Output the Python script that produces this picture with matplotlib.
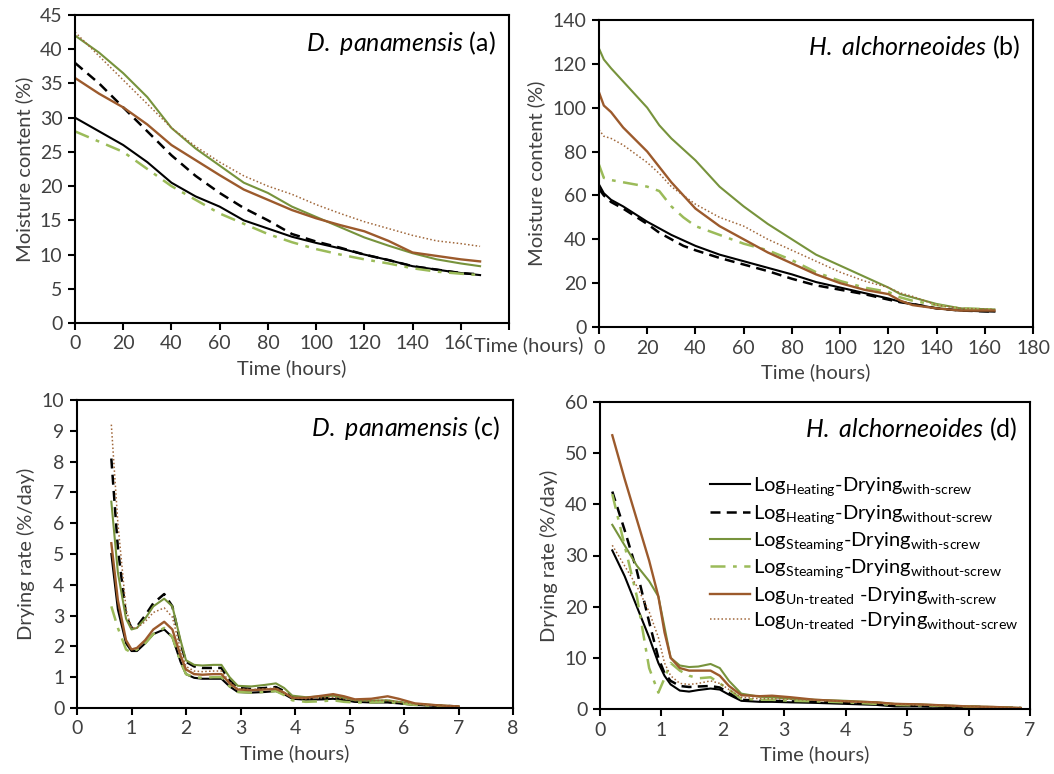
import matplotlib
matplotlib.use('Agg')
import matplotlib.pyplot as plt

plt.rcParams['font.family'] = ['Lato', 'DejaVu Sans']
plt.rcParams['mathtext.fontset'] = 'custom'
plt.rcParams['mathtext.rm'] = 'Lato'
plt.rcParams['mathtext.it'] = 'Lato:italic'

# ---- (a) D. panamensis moisture content ----
t_a = [0, 10, 20, 30, 40, 50, 60, 70, 80, 90, 100, 110, 120, 130, 140, 150, 160, 168]
a_hw = [30, 28, 26, 23.5, 20.5, 18.5, 17, 15, 13.8, 12.6, 11.7, 10.9, 10, 9.2, 8.3, 7.8, 7.3, 7.0]
a_hwo = [38, 35, 31.5, 28, 24.5, 21.5, 19, 16.8, 15, 13, 11.9, 11, 10, 9.2, 8.3, 7.8, 7.3, 7.1]
a_sw = [42, 39.5, 36.5, 33, 28.5, 25.5, 23, 20.5, 19, 17, 15.5, 14, 12.5, 11.3, 10.2, 9.3, 8.7, 8.3]
a_swo = [28, 26.5, 25, 22.5, 20, 18, 16, 14.5, 13, 11.8, 10.8, 10, 9.3, 8.7, 8.0, 7.5, 7.2, 7.0]
a_uw = [35.8, 33.5, 31.5, 29, 26, 23.8, 21.6, 19.5, 18, 16.5, 15.3, 14.3, 13.4, 12, 10.3, 9.8, 9.3, 9.0]
a_uwo = [42.5, 39, 35.5, 32, 28.5, 25.8, 23.5, 21.5, 20, 18.8, 17.3, 16, 14.8, 13.8, 12.8, 12, 11.6, 11.2]

# ---- (b) H. alchorneoides moisture content ----
t_b = [0, 2, 5, 10, 20, 25, 30, 35, 40, 50, 60, 70, 80, 90, 100, 110, 120, 125, 130, 140, 150, 164]
b_hw = [65, 61, 58, 55, 48, 45, 42, 39.5, 37, 33, 30, 27, 24, 20.5, 18, 15.5, 13, 11.5, 10.5, 8.5, 7.5, 7]
b_hwo = [63, 60, 57, 54, 47, 43, 40, 37, 35, 31.5, 28.5, 25.5, 22, 19, 17, 15, 12.5, 11.3, 10.5, 8.5, 7.5, 7]
b_sw = [127, 122, 118, 112, 100, 92, 86, 81, 76, 64, 55, 47, 40, 33, 28, 23, 18, 15, 13.5, 10.5, 8.5, 8]
b_swo = [74, 68, 67, 66, 64, 62, 55, 50, 46, 42, 38, 35, 30.5, 25, 21, 18, 16, 13.5, 12, 10, 8.5, 8]
b_uw = [107, 101, 98, 91, 80, 73, 66, 60, 54, 46, 40, 34, 29, 24, 20, 17, 15, 12, 10, 8.5, 7.5, 7.5]
b_uwo = [90, 87, 86, 83, 75, 70, 64, 60, 56, 50, 46, 40, 35, 30, 25, 21, 18, 15.5, 14, 10, 8.5, 8]

# ---- (c) D. panamensis drying rate ----
t_c = [0.63, 0.75, 0.9, 1.0, 1.1, 1.25, 1.4, 1.6, 1.75, 1.9, 2.0, 2.15, 2.3, 2.5, 2.65, 2.8,
       2.95, 3.2, 3.45, 3.65, 3.8, 3.95, 4.2, 4.5, 4.7, 4.9, 5.1, 5.4, 5.7, 5.9, 6.2, 6.6, 7.0]
c_hw = [5.0, 3.2, 2.1, 1.85, 1.85, 2.1, 2.4, 2.55, 2.3, 1.5, 1.1, 0.98, 0.95, 0.95, 0.95, 0.7,
        0.52, 0.5, 0.52, 0.55, 0.45, 0.3, 0.27, 0.28, 0.3, 0.25, 0.2, 0.18, 0.18, 0.15, 0.1, 0.07, 0.04]
c_hwo = [8.1, 5.2, 3.0, 2.6, 2.65, 3.0, 3.4, 3.7, 3.3, 2.1, 1.5, 1.35, 1.3, 1.3, 1.3, 0.9,
         0.65, 0.62, 0.65, 0.68, 0.55, 0.35, 0.3, 0.32, 0.33, 0.28, 0.22, 0.2, 0.2, 0.17, 0.12, 0.08, 0.05]
c_sw = [6.7, 4.4, 2.9, 2.55, 2.6, 2.9, 3.3, 3.55, 3.3, 2.2, 1.55, 1.4, 1.38, 1.4, 1.4, 1.0,
        0.72, 0.7, 0.75, 0.8, 0.65, 0.4, 0.35, 0.38, 0.4, 0.33, 0.25, 0.24, 0.25, 0.2, 0.13, 0.09, 0.05]
c_swo = [3.3, 2.6, 1.9, 1.8, 1.9, 2.1, 2.4, 2.6, 2.3, 1.5, 1.1, 1.0, 0.98, 1.0, 1.0, 0.7,
         0.52, 0.5, 0.52, 0.55, 0.42, 0.25, 0.2, 0.22, 0.25, 0.2, 0.18, 0.18, 0.2, 0.16, 0.1, 0.07, 0.04]
c_uw = [5.35, 3.5, 2.2, 1.9, 1.95, 2.2, 2.55, 2.8, 2.55, 1.7, 1.25, 1.1, 1.08, 1.1, 1.1, 0.8,
        0.6, 0.58, 0.6, 0.62, 0.5, 0.33, 0.33, 0.4, 0.45, 0.38, 0.28, 0.3, 0.38, 0.3, 0.15, 0.09, 0.05]
c_uwo = [9.2, 6.0, 3.2, 2.6, 2.6, 2.8, 3.1, 3.25, 2.95, 1.9, 1.35, 1.2, 1.18, 1.2, 1.2, 0.85,
         0.62, 0.6, 0.62, 0.65, 0.5, 0.33, 0.3, 0.33, 0.35, 0.3, 0.25, 0.24, 0.25, 0.2, 0.13, 0.08, 0.05]

# ---- (d) H. alchorneoides drying rate ----
t_d = [0.2, 0.4, 0.6, 0.8, 0.95, 1.05, 1.15, 1.3, 1.45, 1.6, 1.8, 1.95, 2.1, 2.3, 2.6, 2.8,
       3.1, 3.5, 4.0, 4.5, 4.8, 5.2, 5.6, 6.0, 6.4, 6.85]
d_hw = [31, 26, 20, 14, 9, 6.5, 4.8, 3.6, 3.4, 3.7, 4.0, 3.8, 2.8, 1.6, 1.4, 1.4,
        1.3, 1.2, 1.0, 0.8, 0.5, 0.5, 0.4, 0.3, 0.2, 0.1]
d_hwo = [42.5, 35, 27, 17, 10, 7, 5.5, 4.5, 4.3, 4.4, 4.5, 4.2, 3.1, 1.8, 1.6, 1.6,
         1.5, 1.4, 1.3, 1.0, 0.8, 0.6, 0.5, 0.5, 0.3, 0.2]
d_sw = [36, 32, 28, 25, 22, 16, 10, 8.5, 8.2, 8.3, 8.8, 8.0, 5.5, 3.0, 2.4, 2.3,
        2.0, 1.8, 1.6, 1.3, 1.0, 0.9, 0.7, 0.5, 0.4, 0.2]
d_swo = [42, 32, 22, 8, 3.2, 6, 9, 7.5, 6.5, 6.0, 6.2, 5.0, 3.8, 2.0, 1.8, 1.8,
         1.6, 1.5, 1.3, 1.0, 0.8, 0.7, 0.6, 0.5, 0.3, 0.2]
d_uw = [53.5, 45, 37, 29, 22, 15, 10, 8, 7.5, 7.5, 7.5, 6.5, 4.5, 2.7, 2.5, 2.6,
        2.3, 1.8, 1.5, 1.3, 1.0, 0.9, 0.7, 0.5, 0.4, 0.2]
d_uwo = [32, 28, 24, 19, 14, 9, 6.5, 5, 4.8, 5.0, 5.5, 5.0, 3.8, 2.3, 2.0, 2.0,
         1.9, 1.7, 1.5, 1.2, 0.9, 0.8, 0.6, 0.5, 0.3, 0.2]

labels = [r'Log$_{\mathrm{Heating}}$-Drying$_{\text{with-screw}}$',
          r'Log$_{\mathrm{Heating}}$-Drying$_{\text{without-screw}}$',
          r'Log$_{\mathrm{Steaming}}$-Drying$_{\text{with-screw}}$',
          r'Log$_{\mathrm{Steaming}}$-Drying$_{\text{without-screw}}$',
          r'Log$_{\text{Un-treated}}$ -Drying$_{\text{with-screw}}$',
          r'Log$_{\text{Un-treated}}$ -Drying$_{\text{without-screw}}$']

styles = [dict(color='black', ls='-', lw=1.5),
          dict(color='black', ls=(0, (4, 2.5)), lw=1.8),
          dict(color='#77933C', ls='-', lw=1.5),
          dict(color='#9BBB59', ls=(0, (6, 3, 1.5, 3)), lw=1.8),
          dict(color='#9C5A2C', ls='-', lw=1.7),
          dict(color='#A0673A', ls=(0, (1, 1.5)), lw=1.1)]

TXT = '#404040'
W, H = 1054, 774


def box(l, r, t, b):
    return [l / W, 1 - b / H, (r - l) / W, (b - t) / H]


fig = plt.figure(figsize=(W / 100, H / 100), dpi=100)

axa = fig.add_axes(box(75, 509, 15, 323))
axb = fig.add_axes(box(599, 1033, 20, 327))
axc = fig.add_axes(box(77, 513, 400, 708))
axd = fig.add_axes(box(600, 1030, 402, 709))

for s, y in zip(styles, [a_hw, a_hwo, a_sw, a_swo, a_uw, a_uwo]):
    axa.plot(t_a, y, **s)
for s, y in zip(styles, [b_hw, b_hwo, b_sw, b_swo, b_uw, b_uwo]):
    axb.plot(t_b, y, **s)
for s, y in zip(styles, [c_hw, c_hwo, c_sw, c_swo, c_uw, c_uwo]):
    axc.plot(t_c, y, **s)
lines = []
for s, y, lab in zip(styles, [d_hw, d_hwo, d_sw, d_swo, d_uw, d_uwo], labels):
    ln, = axd.plot(t_d, y, label=lab, **s)
    lines.append(ln)

axa.set_xlim(0, 180); axa.set_ylim(0, 45)
axa.set_xticks(range(0, 181, 20)); axa.set_yticks(range(0, 46, 5))
axb.set_xlim(0, 180); axb.set_ylim(0, 140)
axb.set_xticks(range(0, 181, 20)); axb.set_yticks(range(0, 141, 20))
axc.set_xlim(0, 8); axc.set_ylim(0, 10)
axc.set_xticks(range(0, 9)); axc.set_yticks(range(0, 11))
axd.set_xlim(0, 7); axd.set_ylim(0, 60)
axd.set_xticks(range(0, 8)); axd.set_yticks(range(0, 61, 10))

titles = [(r'$\mathit{D.}$ $\mathit{panamensis}$', '(a)'),
          (r'$\mathit{H.}$ $\mathit{alchorneoides}$', '(b)'),
          (r'$\mathit{D.}$ $\mathit{panamensis}$', '(c)'),
          (r'$\mathit{H.}$ $\mathit{alchorneoides}$', '(d)')]
ylabs = ['Moisture content (%)', 'Moisture content (%)',
         'Drying rate (%/day)', 'Drying rate (%/day)']

for ax, (sp_name, tag), yl in zip([axa, axb, axc, axd], titles, ylabs):
    for sp in ax.spines.values():
        sp.set_linewidth(1.5)
        sp.set_color('black')
    ax.tick_params(direction='out', length=5, width=1.5, labelsize=14,
                   labelcolor=TXT, pad=4)
    ax.set_xlabel('Time (hours)', fontsize=14.5, color=TXT, labelpad=5)
    ax.set_ylabel(yl, fontsize=14.5, color=TXT, labelpad=5)
    ax.text(0.97, 0.91, sp_name + ' ' + tag, transform=ax.transAxes,
            ha='right', va='center', fontsize=18, color='black')

leg = axd.legend(handles=lines, loc='upper right', bbox_to_anchor=(1.0, 0.80),
                 frameon=False, fontsize=14.5, handlelength=2.0, handletextpad=0.1,
                 labelspacing=0.22, borderaxespad=0.2)

# stray x label that sits over the right end of panel (a)
fig.text(529 / W, 1 - 345 / H, 'Time (hours)', ha='center', va='center',
         fontsize=14.5, color=TXT,
         bbox=dict(facecolor='white', edgecolor='none', pad=1.5), zorder=10)

fig.savefig('out.png', dpi=100)
